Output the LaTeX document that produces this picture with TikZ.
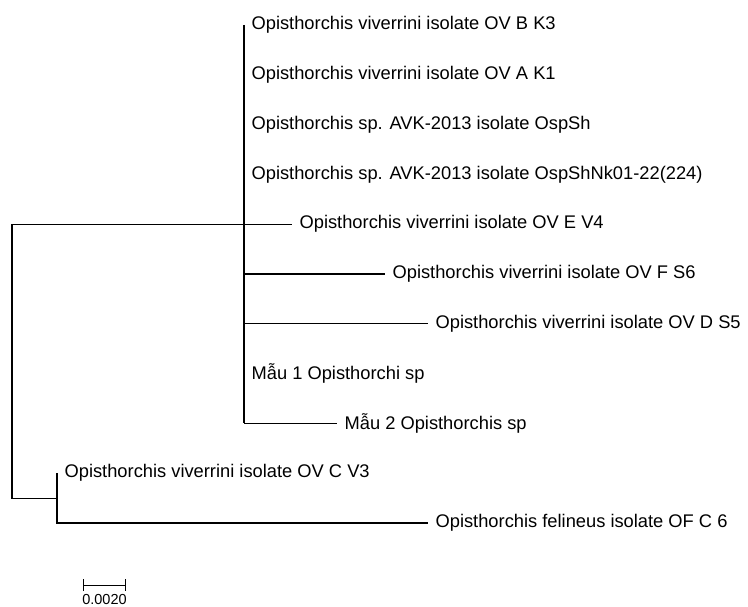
\documentclass[tikz,border=0pt]{standalone}
\usepackage{fontspec}
\setmainfont{Liberation Sans}
\usetikzlibrary{arrows.meta}
\begin{document}
\begin{tikzpicture}[x=1pt,y=-1pt,line width=1.2pt,
    taxon/.style={anchor=west,inner xsep=7pt,inner ysep=0pt,font=\fontsize{18.3}{20}\selectfont}]
    \useasboundingbox (0,0) rectangle (748,607);
    \coordinate (root) at (12,224.2);
    \coordinate (ov) at (244,224.2);
    \coordinate (outg) at (57,498.1);
    \node[taxon] (bk3) at (244,25) {Opisthorchis viverrini isolate OV B K3};
    \node[taxon] (ak1) at (244,74.8) {Opisthorchis viverrini isolate OV A K1};
    \node[taxon] (osp) at (244,124.6) {Opisthorchis sp. AVK-2013 isolate OspSh};
    \node[taxon] (ospnk) at (244,174.4) {Opisthorchis sp. AVK-2013 isolate OspShNk01-22(224)};
    \node[taxon] (ev4) at (292,224.2) {Opisthorchis viverrini isolate OV E V4};
    \node[taxon] (fs6) at (385,274) {Opisthorchis viverrini isolate OV F S6};
    \node[taxon] (ds5) at (428,323.8) {Opisthorchis viverrini isolate OV D S5};
    \node[taxon] (mau1) at (244,373.6) {Mẫu 1 Opisthorchi sp};
    \node[taxon] (mau2) at (337,423.4) {Mẫu 2 Opisthorchis sp};
    \node[taxon] (cv3) at (57,473.2) {Opisthorchis viverrini isolate OV C V3};
    \node[taxon] (ofc6) at (428,523) {Opisthorchis felineus isolate OF C 6};
    \draw (root) -- (ov) -- (ev4.west);
    \draw (ov |- bk3) -- (ov |- mau2);
    \draw (ov |- fs6) -- (fs6.west);
    \draw (ov |- ds5) -- (ds5.west);
    \draw (ov |- mau2) -- (mau2.west);
    \draw (root) -- (root |- outg) -- (outg);
    \draw (outg |- cv3) -- (outg |- ofc6) -- (ofc6.west);
    \coordinate (sa) at (83,585);
    \coordinate (sb) at (126,585);
    \draw[line width=1pt,{Bar[width=12pt]}-{Bar[width=12pt]}] (sa) -- (sb)
        node[midway,below=9pt,inner sep=0pt,font=\fontsize{14.5}{15}\selectfont] (scale) {0.0020};
\end{tikzpicture}
\end{document}
